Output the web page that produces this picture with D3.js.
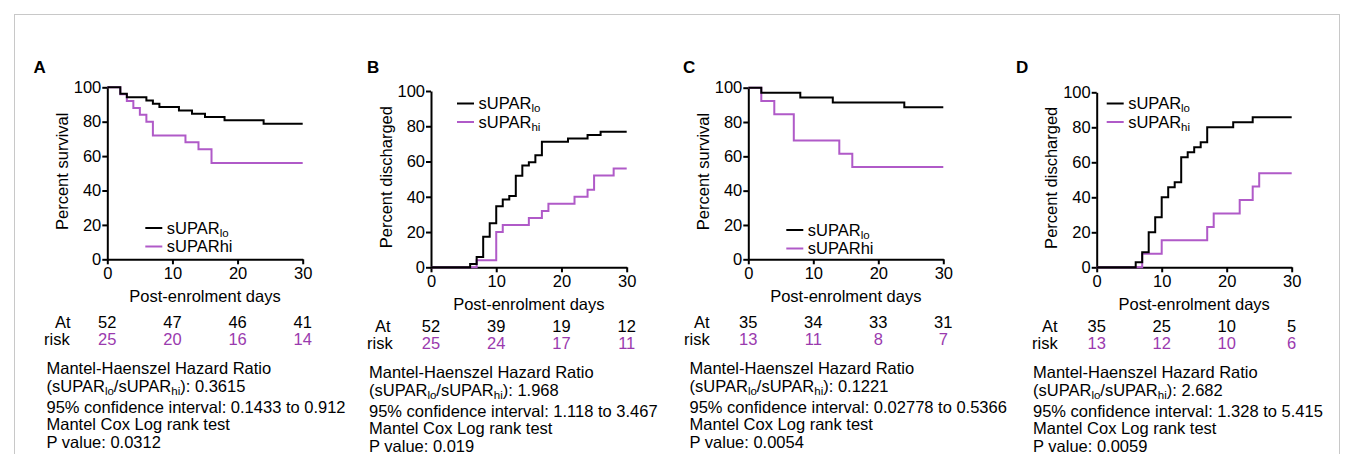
<!DOCTYPE html>
<html>
<head>
<meta charset="utf-8">
<script src="https://cdn.jsdelivr.net/npm/d3@7"></script>
<style>
  body { margin: 0; background: #fff; }
  svg { display: block; font-family: "Liberation Sans", Arial, sans-serif; }
  .axis path, .axis line { stroke: #000; stroke-width: 2px; }
  .axis text { font-size: 16.5px; fill: #000; font-family: "Liberation Sans", Arial, sans-serif; }
</style>
</head>
<body>
<svg width="1354" height="454"></svg>
<script>
// ---- data ----
var panelLetters = ["A", "B", "C", "D"];
var yTitles = ["Percent survival", "Percent discharged", "Percent survival", "Percent discharged"];
var xTicks = [0, 10, 20, 30];
var yTicks = [0, 20, 40, 60, 80, 100];

var loDays = [
  [0, 2, 3, 6, 7, 8, 11, 13, 15, 18, 24, 30],
  [0, 6, 7, 8, 9, 10, 11, 12, 13, 14, 15, 16, 17, 21, 24, 26, 30],
  [0, 2, 8, 13, 24, 30],
  [0, 6, 7, 8, 9, 10, 11, 12, 13, 14, 15, 16, 17, 21, 24, 30]
];
var loPct = [
  [100, 96.2, 94.2, 92.3, 90.4, 88.5, 86.5, 84.6, 82.7, 80.8, 78.8, 78.8],
  [0, 1.9, 5.8, 17.3, 25, 34.6, 38.5, 40.4, 51.9, 57.7, 59.6, 63.5, 71.2, 73.1, 75, 76.9, 76.9],
  [100, 97.1, 94.3, 91.4, 88.6, 88.6],
  [0, 2.9, 8.6, 20, 28.6, 40, 45.7, 48.6, 62.9, 65.7, 68.6, 71.4, 80, 82.9, 85.7, 85.7]
];
var hiDays = [
  [0, 2, 3, 4, 5, 6, 7, 12, 14, 16, 30],
  [0, 7, 10, 11, 15, 17, 18, 22, 24, 25, 28, 30],
  [0, 2, 4, 7, 14, 16, 30],
  [0, 7, 10, 17, 18, 22, 24, 25, 30]
];
var hiPct = [
  [100, 96, 92, 88, 84, 80, 72, 68, 64, 56, 56],
  [0, 4, 20, 24, 28, 32, 36, 40, 44, 52, 56, 56],
  [100, 92.3, 84.6, 69.2, 61.5, 53.8, 53.8],
  [0, 7.7, 15.4, 23.1, 30.8, 38.5, 46.2, 53.8, 53.8]
];
var atRiskLo = [[52, 47, 46, 41], [52, 39, 19, 12], [35, 34, 33, 31], [35, 25, 10, 5]];
var atRiskHi = [[25, 20, 16, 14], [25, 24, 17, 11], [13, 11, 8, 7], [13, 12, 10, 6]];
var hazardRatios = ["0.3615", "1.968", "0.1221", "2.682"];
var confIntervals = ["0.1433 to 0.912", "1.118 to 3.467", "0.02778 to 0.5366", "1.328 to 5.415"];
var pValues = ["0.0312", "0.019", "0.0054", "0.0059"];
var hiLegendSub = [false, true, false, true];

// ---- layout ----
var panels = [
  {x0: 107.3, x1: 302.7, yT: 87.3, yB: 259.3, lx: 33.5, legX: 38, legY: 228, atX: 55, riskX: 44, txtX: 46.5, shift: 0},
  {x0: 431, x1: 626.7, yT: 91, yB: 267.3, lx: 367, legX: 26, legY: 103.5, atX: 375, riskX: 367, txtX: 369, shift: 4},
  {x0: 748.3, x1: 943.3, yT: 87.7, yB: 259.3, lx: 683, legX: 38, legY: 230, atX: 694, riskX: 684, txtX: 689.5, shift: 0},
  {x0: 1096.7, x1: 1291.7, yT: 92.3, yB: 267.3, lx: 1016, legX: 10, legY: 103.5, atX: 1042, riskX: 1032, txtX: 1033, shift: 4}
];
var purpleLine = "#b05ac8", purpleText = "#9a3aae";
var fs = "16.5px", subFs = "11.5px";

var svg = d3.select("svg");

svg.append("rect")
  .attr("x", 14.5).attr("y", 14.5)
  .attr("width", 1325).attr("height", 470)
  .attr("fill", "none").attr("stroke", "#c8c8c8");

function subLabel(sel, base, sub) {
  sel.append("tspan").text(base);
  if (sub) {
    sel.append("tspan").attr("font-size", subFs).attr("dy", 3).text(sub);
  }
}

panels.forEach(function(p, i) {
  var x = d3.scaleLinear().domain([0, 30]).range([p.x0, p.x1]);
  var y = d3.scaleLinear().domain([0, 100]).range([p.yB, p.yT]);
  var g = svg.append("g");

  // panel letter
  g.append("text")
    .attr("x", p.lx).attr("y", 73)
    .attr("font-size", "17px").attr("font-weight", "bold")
    .text(panelLetters[i]);

  // axes
  g.append("g").attr("class", "axis")
    .attr("transform", "translate(0," + p.yB + ")")
    .call(d3.axisBottom(x).tickValues(xTicks).tickSize(5).tickSizeOuter(0).tickPadding(3));
  g.append("g").attr("class", "axis")
    .attr("transform", "translate(" + p.x0 + ",0)")
    .call(d3.axisLeft(y).tickValues(yTicks).tickSize(5).tickSizeOuter(0).tickPadding(1));

  g.append("text")
    .attr("transform", "translate(" + (p.x0 - 39.5) + "," + ((p.yT + p.yB) / 2 - 2) + ") rotate(-90)")
    .attr("text-anchor", "middle").attr("font-size", fs)
    .text(yTitles[i]);

  g.append("text")
    .attr("x", (p.x0 + p.x1) / 2).attr("y", p.yB + 42.5)
    .attr("text-anchor", "middle").attr("font-size", fs)
    .text("Post-enrolment days");

  // step curves
  var line = d3.line()
    .x(function(d) { return x(d[0]); })
    .y(function(d) { return y(d[1]); })
    .curve(d3.curveStepAfter);

  g.append("path")
    .datum(d3.zip(hiDays[i], hiPct[i]))
    .attr("fill", "none").attr("stroke", purpleLine).attr("stroke-width", 2)
    .attr("d", line);
  g.append("path")
    .datum(d3.zip(loDays[i], loPct[i]))
    .attr("fill", "none").attr("stroke", "#000").attr("stroke-width", 2)
    .attr("d", line);

  // legend
  var lx = p.x0 + p.legX;
  [0, 1].forEach(function(k) {
    var ly = p.legY + k * 18.5;
    g.append("line")
      .attr("x1", lx).attr("x2", lx + 17)
      .attr("y1", ly).attr("y2", ly)
      .attr("stroke", k === 0 ? "#000" : purpleLine).attr("stroke-width", 2);
    var t = g.append("text")
      .attr("x", lx + 21.5).attr("y", ly + 5.5)
      .attr("font-size", fs);
    if (k === 0) subLabel(t, "sUPAR", "lo");
    else if (hiLegendSub[i]) subLabel(t, "sUPAR", "hi");
    else t.text("sUPARhi");
  });

  // at risk table
  var s = p.shift;
  g.append("text").attr("x", p.atX).attr("y", 328 + s).attr("font-size", fs).text("At");
  g.append("text").attr("x", p.riskX).attr("y", 345 + s).attr("font-size", fs).text("risk");
  g.selectAll(".rlo").data(atRiskLo[i]).enter().append("text")
    .attr("x", function(d, j) { return x(xTicks[j]); })
    .attr("y", 328 + s)
    .attr("text-anchor", "middle").attr("font-size", fs)
    .text(function(d) { return d; });
  g.selectAll(".rhi").data(atRiskHi[i]).enter().append("text")
    .attr("x", function(d, j) { return x(xTicks[j]); })
    .attr("y", 345 + s)
    .attr("text-anchor", "middle").attr("font-size", fs)
    .attr("fill", purpleText)
    .text(function(d) { return d; });

  // stats text
  g.append("text").attr("x", p.txtX).attr("y", 374 + s).attr("font-size", fs)
    .text("Mantel-Haenszel Hazard Ratio");
  var hr = g.append("text").attr("x", p.txtX).attr("y", 391.5 + s).attr("font-size", fs);
  hr.append("tspan").text("(sUPAR");
  hr.append("tspan").attr("font-size", subFs).attr("dy", 3).text("lo");
  hr.append("tspan").attr("dy", -3).text("/sUPAR");
  hr.append("tspan").attr("font-size", subFs).attr("dy", 3).text("hi");
  hr.append("tspan").attr("dy", -3).text("): " + hazardRatios[i]);
  g.append("text").attr("x", p.txtX).attr("y", 412.5 + s).attr("font-size", fs)
    .text("95% confidence interval: " + confIntervals[i]);
  g.append("text").attr("x", p.txtX).attr("y", 430 + s).attr("font-size", fs)
    .text("Mantel Cox Log rank test");
  g.append("text").attr("x", p.txtX).attr("y", 447.5 + s).attr("font-size", fs)
    .text("P value: " + pValues[i]);
});
</script>
</body>
</html>
